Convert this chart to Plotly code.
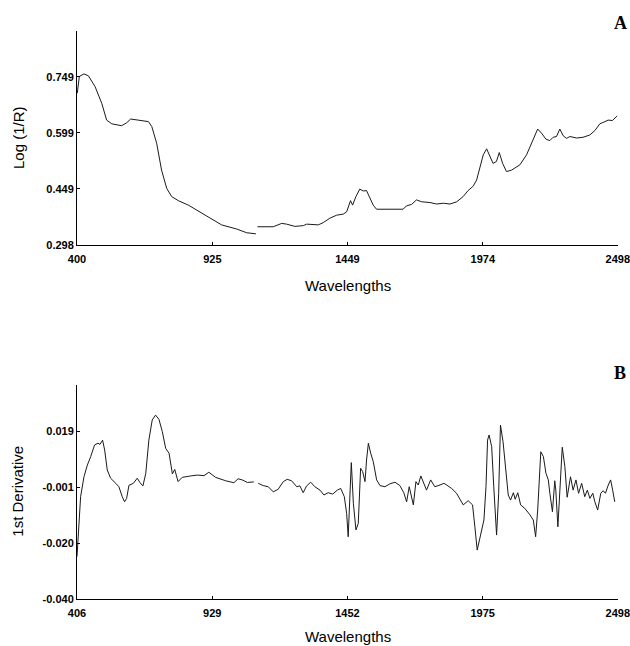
import plotly.graph_objects as go
from plotly.subplots import make_subplots

# ---------------- Panel A : Log(1/R) spectrum ----------------
wl_a = [401, 409, 427, 444, 470, 496, 515, 535, 573, 593, 608, 638, 677, 690, 709, 728,
        748, 767, 793, 832, 877, 922, 961, 1019, 1058, 1094, None,
        1100, 1161, 1194, 1213, 1245, 1278, 1291, 1316, 1336, 1355, 1381, 1407, 1433,
        1446, 1456, 1461, 1469, 1482, 1497, 1510, 1523, 1536, 1549, 1562, 1665, 1678,
        1698, 1717, 1737, 1769, 1795, 1821,
        1847, 1873, 1898, 1917, 1937, 1950, 1963, 1976, 1989, 2002, 2014, 2027, 2038,
        2051, 2066, 2086, 2118, 2144, 2170, 2187, 2202, 2219, 2234, 2247, 2260, 2273,
        2286, 2299, 2312, 2338, 2363, 2389, 2409, 2428, 2448, 2460, 2477, 2495]
log_r = [0.705, 0.750, 0.757, 0.752, 0.723, 0.678, 0.633, 0.623, 0.618, 0.626, 0.636,
         0.633, 0.629, 0.616, 0.571, 0.499, 0.450, 0.428, 0.417, 0.405, 0.387, 0.367,
         0.352, 0.341, 0.331, 0.328, None,
         0.347, 0.347, 0.356, 0.354, 0.348, 0.350, 0.354, 0.354, 0.352, 0.358, 0.370,
         0.378, 0.381, 0.387, 0.405, 0.417, 0.405, 0.428, 0.448, 0.443, 0.444, 0.426,
         0.405, 0.394, 0.394, 0.403, 0.407, 0.419, 0.414, 0.412, 0.408, 0.410,
         0.408, 0.414, 0.428, 0.444, 0.456, 0.472, 0.508, 0.540, 0.556, 0.535, 0.517,
         0.522, 0.546, 0.517, 0.495, 0.499, 0.513, 0.540, 0.580, 0.609, 0.598, 0.582,
         0.578, 0.587, 0.589, 0.609, 0.591, 0.584, 0.589, 0.585, 0.587, 0.593, 0.605,
         0.623, 0.629, 0.633, 0.632, 0.644]

# ---------------- Panel B : 1st derivative ----------------
wl_b = [406, 414, 420, 433, 446, 459, 474, 487, 495, 505, 513, 523, 536, 556, 568, 581,
        590, 598, 607, 624, 639, 650, 661, 672, 684, 697, 710, 723, 736, 749, 762, 775,
        784, 797, 813, 846, 871, 897, 916, 942, 981, 1013, 1029, 1045, 1065, 1090, None,
        1107, 1126, 1146, 1165, 1184, 1204, 1219, 1236, 1256, 1268, 1281, 1294, 1310,
        1326, 1346, 1361, 1378, 1395, 1413, 1426, 1440, 1449, 1455, 1462, 1467, 1475,
        1485, 1494, 1503, 1511, 1520, 1526, 1533, 1542, 1552, 1565, 1578, 1597, 1616,
        1636, 1655, 1670, 1681, 1691, 1698, 1707, 1717, 1726, 1736, 1745, 1758, 1774,
        1790, 1810, 1825,
        1836, 1855, 1874, 1900, 1919, 1936, 1945, 1954, 1967, 1980, 1988, 1994, 2000,
        2010, 2018, 2029, 2037, 2044, 2054, 2065, 2074, 2083, 2094, 2101, 2111, 2122,
        2138, 2158, 2171, 2180, 2188, 2200, 2210, 2220, 2229, 2235, 2245, 2254, 2258,
        2266, 2274, 2283, 2293, 2302, 2315, 2325, 2336, 2346, 2358, 2370, 2380, 2390,
        2401, 2409, 2420, 2432, 2441, 2450, 2461, 2470, 2478, 2486]
deriv = [-0.0251, -0.0099, -0.0040, 0.0030, 0.0071, 0.0101, 0.0142, 0.0148, 0.0144,
         0.0159, 0.0124, 0.0054, 0.0025, 0.0007, -0.0005, -0.0040, -0.0058, -0.0046,
         0.0000, 0.0007, 0.0025, 0.0009, -0.0002, 0.0042, 0.0159, 0.0230, 0.0247,
         0.0232, 0.0189, 0.0130, 0.0113, 0.0040, 0.0056, 0.0013, 0.0028, 0.0033,
         0.0036, 0.0034, 0.0046, 0.0028, 0.0016, 0.0009, 0.0023, 0.0019, 0.0010,
         0.0012, None,
         0.0007, -0.0001, -0.0005, -0.0023, -0.0014, 0.0013, 0.0021, 0.0016, -0.0005,
         -0.0002, -0.0026, -0.0002, 0.0011, -0.0005, -0.0017, -0.0034, -0.0026,
         -0.0031, -0.0017, -0.0011, -0.0040, -0.0099, -0.0181, -0.0005, 0.0080,
         -0.0063, -0.0157, -0.0134, 0.0060, 0.0048, 0.0013, 0.0089, 0.0148, 0.0113,
         0.0083, 0.0019, -0.0001, -0.0005, 0.0005, 0.0011, -0.0001, -0.0026, -0.0058,
         -0.0005, -0.0034, -0.0069, 0.0013, 0.0001, 0.0033, 0.0013, -0.0017, 0.0019,
         -0.0005, 0.0001, 0.0007,
         0.0001, -0.0011, -0.0028, -0.0069, -0.0054, -0.0069, -0.0146, -0.0228,
         -0.0175, -0.0122, -0.0005, 0.0159, 0.0177, 0.0136, -0.0005, -0.0175, -0.0028,
         0.0212, 0.0153, 0.0054, -0.0034, -0.0052, -0.0026, -0.0049, -0.0026, -0.0069,
         -0.0081, -0.0104, -0.0122, -0.0181, -0.0087, 0.0118, 0.0101, 0.0042, 0.0019,
         -0.0028, -0.0093, 0.0016, -0.0017, -0.0146, 0.0007, 0.0134, 0.0066, -0.0042,
         0.0030, -0.0017, 0.0019, -0.0028, 0.0007, -0.0040, -0.0017, -0.0046, -0.0028,
         -0.0058, -0.0087, -0.0028, -0.0019, -0.0028, 0.0001, 0.0019, -0.0017, -0.0058]

# ---------------- Tick values / labels ----------------
xticks_a = [400, 925, 1449, 1974, 2498]
yticks_a = [0.2983, 0.4486, 0.5989, 0.7492]
ytext_a = ["0.298", "0.449", "0.599", "0.749"]
xticks_b = [406, 929, 1452, 1975, 2498]
yticks_b = [-0.0400, -0.0203, -0.0006, 0.0191]
ytext_b = ["-0.040", "-0.020", "-0.001", "0.019"]

fig = make_subplots(rows=2, cols=1)

line_style = dict(color="#1a1a1a", width=1)
fig.add_trace(go.Scatter(x=wl_a, y=log_r, mode="lines", line=line_style,
                         connectgaps=False, showlegend=False), row=1, col=1)
fig.add_trace(go.Scatter(x=wl_b, y=deriv, mode="lines", line=line_style,
                         connectgaps=False, showlegend=False), row=2, col=1)

tickfont = dict(family="Liberation Sans, Arial, sans-serif", size=11, color="black",
                weight="bold")
axis_common = dict(showline=True, linecolor="black", linewidth=1, showgrid=False,
                   zeroline=False, ticks="inside", ticklen=3, tickcolor="black",
                   tickfont=tickfont, mirror=False, ticklabeloverflow="allow",
                   automargin=False)

fig.update_xaxes(axis_common)
fig.update_yaxes(axis_common)
fig.update_xaxes(ticklabelstandoff=4)

fig.update_xaxes(domain=[0, 1], range=[400, 2498.6], tickvals=xticks_a,
                 ticktext=[str(v) for v in xticks_a], row=1, col=1)
fig.update_yaxes(domain=[0.6232, 1.0], range=[0.298, 0.872], tickvals=yticks_a,
                 ticktext=ytext_a, row=1, col=1)
fig.update_xaxes(domain=[0, 1], range=[406, 2498.6], tickvals=xticks_b,
                 ticktext=[str(v) for v in xticks_b], row=2, col=1)
fig.update_yaxes(domain=[0.0, 0.3768], range=[-0.040, 0.0353], tickvals=yticks_b,
                 ticktext=ytext_b, row=2, col=1)

title_font = dict(family="Liberation Sans, Arial, sans-serif", size=15, color="black")
panel_font = dict(family="Liberation Serif, Times New Roman, serif", size=18,
                  color="black", weight="bold")

annotations = [
    dict(text="Wavelengths", x=0.5, y=0.5528, xref="paper", yref="paper",
         showarrow=False, font=title_font, xanchor="center", yanchor="middle"),
    dict(text="Wavelengths", x=0.5, y=-0.0669, xref="paper", yref="paper",
         showarrow=False, font=title_font, xanchor="center", yanchor="middle"),
    dict(text="Log (1/R)", x=-0.109, y=0.8116, xref="paper", yref="paper",
         showarrow=False, font=title_font, textangle=-90, xanchor="center",
         yanchor="middle"),
    dict(text="1st Derivative", x=-0.109, y=0.189, xref="paper", yref="paper",
         showarrow=False, font=title_font, textangle=-90, xanchor="center",
         yanchor="middle"),
    dict(text="A", x=1.0037, y=1.014, xref="paper", yref="paper", showarrow=False,
         font=panel_font, xanchor="center", yanchor="middle"),
    dict(text="B", x=1.0037, y=0.398, xref="paper", yref="paper", showarrow=False,
         font=panel_font, xanchor="center", yanchor="middle"),
]

fig.update_layout(
    width=630, height=646,
    margin=dict(l=77, r=12, t=31, b=47, autoexpand=False),
    plot_bgcolor="white", paper_bgcolor="white",
    annotations=annotations,
    showlegend=False,
)

fig.write_html("out.html")
